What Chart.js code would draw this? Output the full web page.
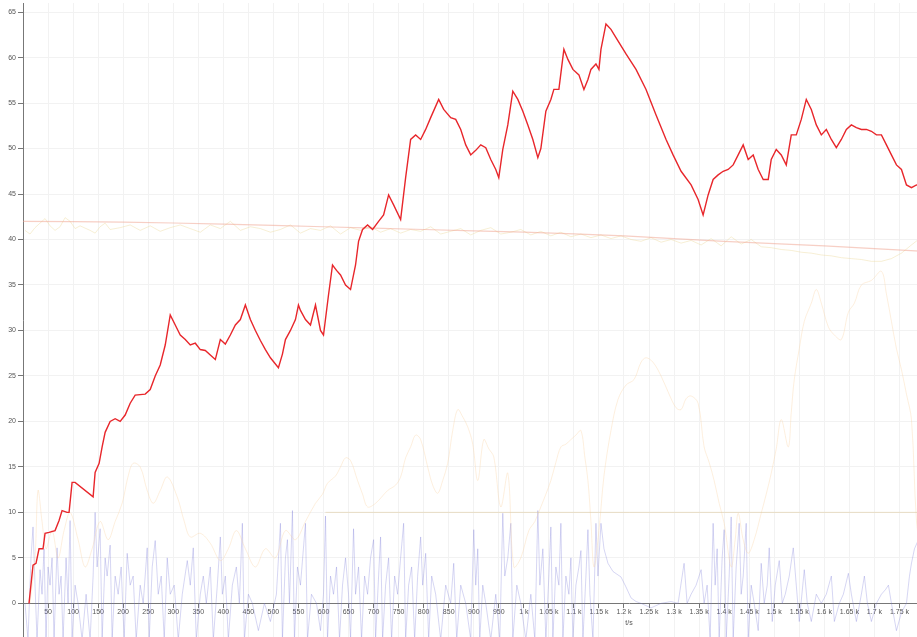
<!DOCTYPE html>
<html>
<head>
<meta charset="utf-8">
<script src="https://cdn.jsdelivr.net/npm/chart.js@4/dist/chart.umd.min.js"></script>
<style>
  html, body { margin: 0; padding: 0; background: #fff; overflow: hidden; width: 917px; height: 637px; }
  #wrap { position: relative; width: 1240px; height: 637px; }
</style>
</head>
<body>
<div id="wrap"><canvas id="chart" width="1240" height="637"></canvas></div>
<script>
// Main response curve
const mainX = [12,20,26,32,40,44,52,64,72,78,88,92,98,104,140,144,152,158,164,174,184,194,204,214,224,244,254,264,274,284,294,304,314,324,334,344,354,364,374,384,394,404,414,424,434,444,454,464,474,484,494,510,518,524,534,544,550,554,564,574,584,594,600,610,618,626,634,644,654,664,670,678,688,698,710,720,730,740,754,764,774,784,794,804,814,830,840,854,864,874,884,894,904,914,924,934,944,950,958,968,978,988,998,1008,1018,1028,1034,1044,1054,1060,1070,1080,1088,1098,1110,1120,1128,1134,1144,1150,1154,1164,1174,1184,1204,1224,1244,1264,1284,1298,1314,1334,1348,1358,1368,1378,1388,1398,1408,1418,1428,1438,1448,1458,1468,1478,1488,1494,1504,1514,1524,1534,1544,1554,1564,1574,1584,1594,1604,1614,1624,1634,1644,1654,1664,1674,1684,1694,1704,1714,1724,1734,1744,1754,1764,1774,1784,1794];
const mainY = [0,4.2,4.4,6.0,6.0,7.7,7.8,8.0,9.1,10.2,10.0,10.0,13.3,13.3,11.7,14.4,15.4,17.2,18.8,20.0,20.3,20.0,20.7,22.0,22.9,23.0,23.5,25.0,26.2,28.4,31.7,30.6,29.5,29.0,28.4,28.6,27.9,27.8,27.3,26.8,29.0,28.5,29.5,30.6,31.2,32.8,31.2,30.0,28.9,27.9,27.0,25.9,27.4,29.0,30.0,31.2,32.8,32.2,31.2,30.6,32.8,30.0,29.5,33.9,37.2,36.6,36.1,35.0,34.5,37.2,39.8,41.1,41.6,41.1,42.0,42.7,44.9,43.8,42.2,46.8,51.0,51.5,51.0,52.1,53.4,55.4,54.3,53.4,53.2,52.1,50.4,49.3,49.8,50.4,50.1,48.8,47.7,46.8,49.9,52.6,56.3,55.4,54.1,52.6,51.0,49.0,50.0,54.1,55.4,56.5,56.5,60.9,59.8,58.7,58.1,56.5,57.6,58.7,59.3,58.7,60.9,63.7,63.1,62.2,60.4,58.7,56.5,53.7,51.0,49.3,47.5,46.0,44.4,42.7,44.9,46.6,47.1,47.5,47.7,48.2,49.3,50.4,48.8,49.3,47.7,46.6,46.6,48.8,49.9,49.3,48.2,51.5,51.5,53.2,55.4,54.3,52.6,51.5,52.1,51.0,50.1,51.0,52.1,52.6,52.3,52.1,52.1,51.9,51.5,51.5,50.4,49.3,48.2,47.7,46.0,45.7,46.0,45.8];

// Noisy level around 40
const levelX = [4,14,24,34,44,54,64,74,84,94,104,114,134,144,154,164,174,194,214,234,254,274,294,314,334,354,374,394,414,434,454,474,494,514,534,554,574,594,614,634,654,674,694,714,734,754,774,794,814,834,854,874,894,914,934,954,974,994,1014,1034,1054,1074,1094,1114,1134,1154,1174,1194,1214,1234,1254,1274,1294,1314,1334,1354,1374,1394,1414,1434,1454,1474,1494,1514,1534,1554,1574,1594,1614,1634,1654,1674,1694,1714,1734,1754,1774,1788];
const levelY = [41.0,40.6,41.3,41.8,42.3,41.5,41.0,41.4,42.4,42.0,41.2,41.5,41.0,40.7,41.4,41.8,41.1,41.3,41.6,41.0,41.5,40.9,41.3,41.6,41.2,40.8,41.6,41.2,42.0,41.0,41.4,41.2,40.8,41.1,41.6,40.7,41.2,41.0,41.5,40.6,41.3,41.0,41.4,40.8,41.2,40.7,41.1,40.9,41.4,40.6,40.9,41.2,40.5,41.0,41.3,40.6,40.8,41.1,40.5,40.9,40.4,40.8,40.3,40.6,40.2,40.5,40.1,40.4,40.0,39.8,40.2,39.7,40.0,39.6,39.9,39.4,40.1,39.3,40.3,39.5,40.0,39.2,39.1,38.9,38.8,38.6,38.5,38.3,38.2,38.0,37.9,37.8,37.6,37.6,37.9,38.5,39.4,40.0];

// Smoothed trend
const trendX = [0,200,400,600,800,1000,1200,1400,1600,1800];
const trendY = [42.0,41.9,41.7,41.4,41.1,40.8,40.4,39.8,39.3,38.7];

// Secondary wave
const waveX = [14,24,30,38,46,58,70,82,94,110,124,138,154,170,184,198,210,220,234,248,260,274,288,308,322,334,354,374,394,410,426,444,464,484,504,524,544,564,584,598,608,624,634,644,654,668,678,688,704,728,744,754,764,774,784,794,808,818,828,838,848,858,868,878,888,898,908,920,930,940,954,968,980,994,1010,1022,1034,1044,1054,1064,1074,1084,1094,1104,1114,1122,1128,1134,1140,1150,1160,1174,1188,1204,1220,1234,1244,1258,1274,1290,1304,1314,1324,1334,1348,1360,1370,1380,1390,1400,1414,1422,1428,1438,1448,1460,1474,1484,1494,1504,1514,1528,1534,1540,1550,1560,1574,1584,1594,1608,1620,1634,1648,1660,1674,1694,1714,1724,1734,1744,1754,1764,1774,1784,1794];
const waveY = [0,5,12.4,9,6,8,5,8,10,7,4,6,9,7,9,11,14,15.4,15,12.4,11,12.4,13.9,11.7,9,7.3,7.7,6.6,4.7,6,8,6,4,6,5,8,7,9,11,12,13.2,14,15,16,15.7,13.5,12,10.6,11,12.4,13,13.9,16,17.2,18.5,18,15,13,12.1,13.5,15.4,19,21.3,20.5,19.4,17.5,13.5,18,17,16.1,10.6,14.3,4,5,8,9,10.6,12,13.5,15.5,17.2,17.5,18,18.5,19,16,13.5,9,4,8,14,19,22.4,24,24.6,26.5,27,26.5,25,23,21.5,21.3,22.5,22.8,22,17.2,15.5,13.5,11,8.8,4,7,9.9,7,5.5,7,9.9,12,14.3,17,20.2,17.2,21,24.6,28,31,33,34.5,33,30.4,29.5,29,32,33,35,35.5,36.5,34,31,28,25.7,23,20.2,9.1,5];

// Fixed threshold
const limitX = [604,1800];
const limitY = [10,10];

// Spiky activity signal
const activityX = [4,10,16,20,24,28,34,38,42,46,50,54,58,62,68,72,76,80,86,90,94,98,104,110,118,126,134,140,144,148,154,158,164,168,174,178,184,190,196,202,208,214,220,226,234,240,248,252,258,264,270,276,282,288,294,302,310,318,328,334,340,346,354,360,366,374,380,388,394,398,404,410,418,426,432,438,442,450,458,470,482,494,506,514,518,524,528,532,538,542,548,554,564,568,576,586,594,600,604,608,614,620,626,632,638,644,650,654,660,664,670,676,682,688,694,700,704,710,714,718,724,730,736,742,748,754,760,764,770,776,782,788,794,798,804,810,816,824,834,844,854,860,866,874,884,894,900,904,908,912,918,924,934,944,952,958,962,968,974,978,986,994,1004,1014,1022,1028,1032,1038,1044,1050,1054,1058,1064,1070,1074,1078,1084,1090,1094,1098,1104,1110,1114,1118,1124,1128,1132,1138,1144,1148,1154,1160,1168,1178,1186,1194,1204,1214,1224,1234,1254,1274,1294,1308,1320,1326,1334,1344,1354,1360,1366,1372,1378,1382,1386,1390,1396,1400,1404,1410,1414,1418,1424,1430,1434,1438,1444,1448,1454,1460,1468,1474,1480,1486,1490,1496,1502,1510,1516,1522,1530,1538,1544,1550,1560,1566,1574,1584,1594,1604,1614,1620,1630,1638,1648,1654,1664,1674,1680,1686,1694,1704,1714,1722,1728,1734,1744,1754,1764,1770,1774,1780,1788,1794];
const activityY = [0,-4,5,8.4,2,-4,3.7,1,6,-4,4,2,5,-4,6.1,1,3,-4,5,0,9.1,-4,2,0,-4,1,-4,3,10,4,8.2,-4,5,3,6.4,-4,3,1,4,-4,5.5,2,3,-4,2,0,6.1,-4,4,6.9,1,3,-4,5,1,2,-4,1,4.7,2,6.1,-4,1,3,0,4,-4,2,7.3,1,3,-4,2,4,0,8.8,-4,1,0,-3,0,-2,1,8.8,-4,5,7,0,10.2,-4,4,2,8.8,-4,1,0,-3,1,9.6,-4,3,1,4,-4,2,5,1,-4,8.2,1,4,-4,3,1,5,7,-4,3,7.3,-4,2,5,-4,3,1,5,8.8,-4,2,4,-4,3,7.3,2,5.5,-4,3,1,-4,2,0,4.4,-4,2,0,-4,8.1,2,6,-4,2,0,-4,1,-4,9.9,3,5,8.8,-4,2,0,-4,1,-4,10.2,2,6,-4,3,8.4,-4,4,2,8.8,-4,3,1,5,-4,2,4,5.8,-4,3,8.1,1,-4,8.8,3,8.8,6,4.4,3.5,3.2,2.9,1.8,0.6,0.2,0,-0.5,0,0.2,0,4.4,0,1,2,3.7,0,2,-4,8.8,2,6,-4,5,8.1,-4,3,9.5,-4,4,8.8,1,3,8.8,-4,2,0,-3,4.4,0,2,6.1,-2,2,4.7,0,1,3,6.1,2,-2,3.7,0,-2,1,0,1,3,-2,0,1,3.3,1,-2,1,3,0,-2,0,1,1.5,2,0,-3,-1,0,3,4.4,6,7,5];

const xTickLabel = (v) => {
  if (v <= 0) return '';
  if (v < 1000) return String(v);
  return (v / 1000) + ' k';
};

const pairs = (xs, ys) => xs.map((x, i) => ({ x: x, y: ys[i] }));

const font = { family: "'Liberation Sans', Arial, sans-serif", size: 7 };

new Chart(document.getElementById('chart'), {
  type: 'line',
  data: {
    datasets: [
      { label: 'Main', data: pairs(mainX, mainY), borderColor: '#e8262b', borderWidth: 1.4, pointRadius: 0, tension: 0 },
      { label: 'Trend', data: pairs(trendX, trendY), borderColor: 'rgba(240,160,140,0.5)', borderWidth: 1.2, pointRadius: 0, tension: 0.3 },
      { label: 'Level', data: pairs(levelX, levelY), borderColor: 'rgba(235,215,150,0.4)', borderWidth: 1, pointRadius: 0, tension: 0 },
      { label: 'Limit', data: pairs(limitX, limitY), borderColor: 'rgba(225,205,165,0.6)', borderWidth: 1, pointRadius: 0 },
      { label: 'Wave', data: pairs(waveX, waveY), borderColor: 'rgba(250,210,160,0.35)', borderWidth: 1, pointRadius: 0, tension: 0.35 },
      { label: 'Activity', data: pairs(activityX, activityY), borderColor: 'rgba(120,120,215,0.3)', borderWidth: 1, pointRadius: 0, tension: 0 }
    ]
  },
  options: {
    responsive: false,
    animation: false,
    events: [],
    layout: { padding: { top: 3, right: 5, bottom: 0, left: 0 } },
    plugins: { legend: { display: false }, tooltip: { enabled: false } },
    scales: {
      x: {
        type: 'linear',
        min: 0,
        max: 2420,
        position: { y: 0 },
        afterBuildTicks: (s) => { s.ticks = s.ticks.filter(t => t.value % 50 === 0); },
        grid: { color: '#f2f2f2', tickColor: '#777', tickLength: 4 },
        border: { color: '#777', width: 1 },
        ticks: { stepSize: 50, autoSkip: false, maxRotation: 0, minRotation: 0, padding: 1, color: '#555', font: font, callback: xTickLabel },
        title: { display: true, text: 't/s', color: '#555', font: font, padding: { top: 1, bottom: 0 } }
      },
      y: {
        type: 'linear',
        min: -3.7,
        max: 66,
        afterBuildTicks: (s) => { s.ticks = s.ticks.filter(t => t.value >= 0 && t.value <= 65 && t.value % 5 === 0); },
        afterFit: (s) => { s.width = 23; s.paddingTop = 0; s.paddingBottom = 0; },
        grid: { color: '#f2f2f2', tickColor: '#777', tickLength: 5 },
        border: { color: '#777', width: 1 },
        ticks: { stepSize: 5, padding: 2, color: '#555', font: font }
      }
    }
  }
});
</script>
</body>
</html>
